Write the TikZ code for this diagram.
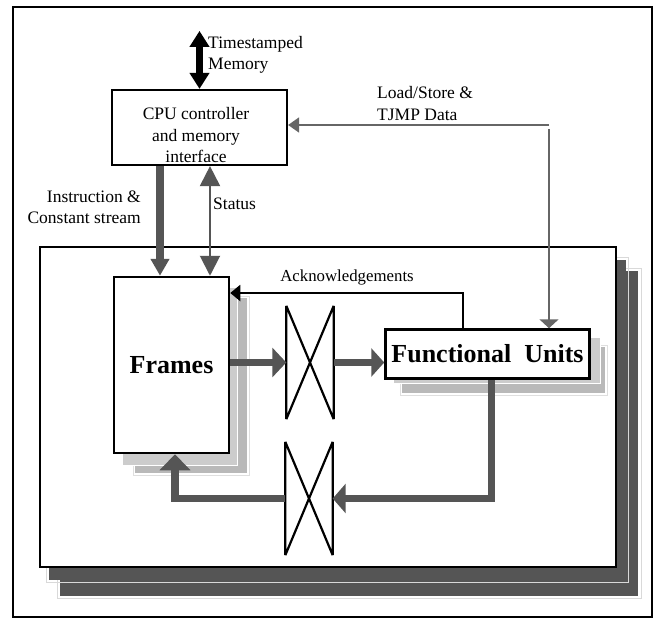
\documentclass[tikz,border=0pt]{standalone}
\usepackage{fontspec}
\setmainfont{Liberation Serif}
\usetikzlibrary{arrows.meta}
\definecolor{darkline}{RGB}{85,85,85}
\definecolor{lsgray}{RGB}{102,102,102}
\begin{document}
\begin{tikzpicture}[x=1pt,y=-1pt]
    % --- 样式设置 ---
    \tikzstyle{box}=[draw, line width=2.2pt, fill=white, inner sep=0pt]
    \tikzstyle{xbar}=[inner sep=0pt, minimum width=47pt, minimum height=113pt]
    \tikzstyle{lbl}=[inner sep=0pt, font=\fontsize{17.5}{21.5}\selectfont]
    \tikzstyle{bigfont}=[font=\bfseries\fontsize{26}{30}\selectfont]
    \tikzstyle{bigarrow}=[darkline, line width=7.5pt]
    \tikzstyle{thinarrow}=[darkline, line width=2pt]
    \tikzstyle{lsline}=[lsgray, line width=1.8pt]

    \useasboundingbox (0,0) rectangle (654,618);

    % 1. 外框
    \draw[line width=2.5pt] (13,7) rectangle (652,617);

    % 2. 主板的叠层阴影
    \draw[gray!30, line width=1pt] (57,268) rectangle (641,598);
    \fill[darkline] (60,271) rectangle (638,596);
    \draw[gray!30, line width=1pt] (46,257) rectangle (628,582);
    \fill[darkline] (49,260) rectangle (626,580);
    \node[box, line width=2.5pt, minimum width=576pt, minimum height=320pt] (board) at (328,407) {};

    % 3. 方块的浅灰阴影
    \draw[gray!25, line width=0.8pt] (133,296) rectangle (249,475);
    \fill[gray!55] (135,298) rectangle (247,473);
    \filldraw[gray!40, draw=white, line width=1pt] (122,287) rectangle (237,465);
    \draw[gray!25, line width=0.8pt] (400,345) rectangle (607,395);
    \fill[gray!55] (402,347) rectangle (605,393);
    \filldraw[gray!40, draw=white, line width=1pt] (393,337) rectangle (600,383);

    % 4. 节点
    \node[box, minimum width=175pt, minimum height=75pt] (cpu) at (199.5,127.5) {};
    \node[lbl, align=center] (cputxt) at (196,135.5) {CPU controller\\and memory\\interface};
    \node[box, bigfont, line width=2.5pt, minimum width=115pt, minimum height=176pt] (frames) at (171.5,365) {Frames};
    \node[box, bigfont, line width=2.5pt, minimum width=204pt, minimum height=49pt] (fu) at (487.5,354) {Functional\ \ Units};
    \node[xbar] (xa) at (310,362.5) {};
    \node[xbar] (xb) at (309,498.5) {};
    \foreach \x in {xa,xb}
      \draw[line width=2.2pt] (\x.north west) -- (\x.south west) (\x.north east) -- (\x.south east)
        (\x.north west) -- (\x.south east) (\x.north east) -- (\x.south west);

    % 5. 连线
    \coordinate (memtop) at ([yshift=58pt]cpu.north);
    \coordinate (insx) at (160,0);
    \coordinate (stax) at (210,0);
    \coordinate (ls) at (549,125);
    \coordinate (ack) at (463,293);

    \draw[line width=7pt, {Triangle[width=19pt,length=16pt]}-{Triangle[width=19pt,length=16pt]}] (memtop) -- (cpu.north);
    \draw[bigarrow, -{Triangle[width=18pt,length=17pt]}] (cpu.south -| insx) -- (frames.north -| insx);
    \draw[thinarrow, {Triangle[width=20pt,length=20pt]}-{Triangle[width=20pt,length=20pt]}] (cpu.south -| stax) -- (frames.north -| stax);
    \draw[lsline, -{Triangle[width=15pt,length=11pt]}] (ls) -- (cpu.east |- ls);
    \draw[lsline, -{Triangle[width=19pt,length=9pt]}] ([yshift=-4pt]ls) -- (fu.north -| ls);
    \draw[line width=2pt, -{Triangle[width=16pt,length=10pt]}] (fu.north -| ack) -- (ack) -- (frames.east |- ack);

    \draw[bigarrow, -{Triangle[width=29pt,length=14pt]}] (frames.east |- xa) -- (xa.west);
    \draw[bigarrow, -{Triangle[width=28pt,length=13pt]}] (xa.east) -- (fu.west |- xa.east);
    \draw[bigarrow, -{Triangle[width=29pt,length=13pt]}] ([xshift=4pt]fu.south) |- (xb.east);
    \draw[bigarrow, -{Triangle[width=30pt,length=16pt]}] (xb.west) -| ([xshift=3.5pt]frames.south);

    % 6. 文字标注
    \node[lbl, anchor=west, align=left] (memlbl) at (208,55) {Timestamped\\Memory};
    \node[lbl, anchor=west, align=left] (lslbl) at (377,103.5) {Load/Store \&\\TJMP Data};
    \node[lbl, anchor=east, align=right] (inslbl) at (141,207.5) {Instruction \&\\Constant stream};
    \node[lbl, anchor=west] (stalbl) at (213,204) {Status};
    \node[lbl, font=\fontsize{16.8}{20}\selectfont] (acklbl) at (347,277) {Acknowledgements};

\end{tikzpicture}
\end{document}
